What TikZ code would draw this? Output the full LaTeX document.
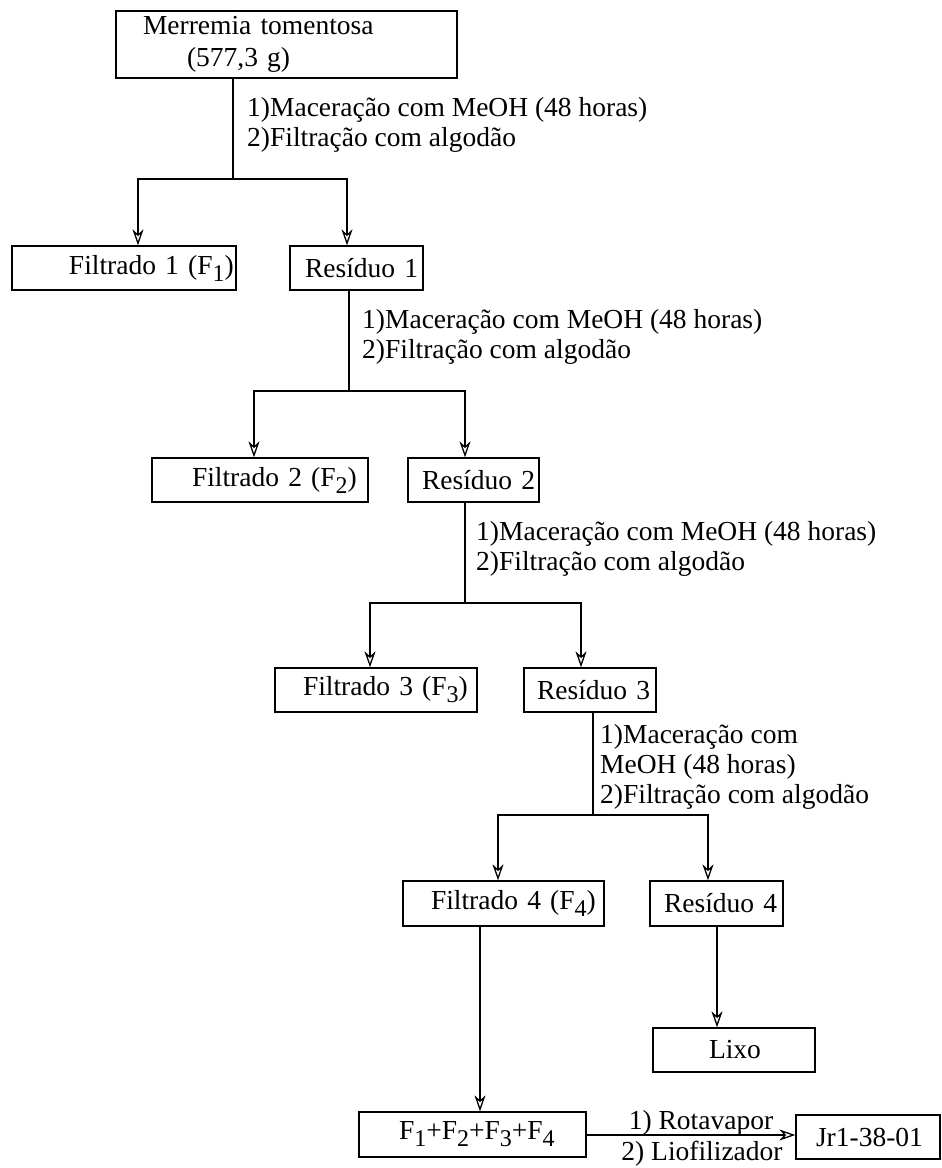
\documentclass[tikz,border=0pt]{standalone}
\usepackage{fontspec}
\setmainfont{Liberation Serif}
\usetikzlibrary{arrows.meta}
\newcommand{\sbs}[1]{\raisebox{-7pt}{\fontsize{24}{24}\selectfont #1}}
\begin{document}
\begin{tikzpicture}[x=1pt,y=-1pt,
  every node/.style={font=\fontsize{27.5}{30}\selectfont, inner sep=0pt},
  box/.style={draw, line width=1.3pt, align=left, minimum height=44pt},
  conn/.style={line width=1.3pt},
  arr/.style={conn, -{Stealth[open, length=16pt, width=11pt, inset=5pt]}},
  lbl/.style={align=left, anchor=north west}
]
\useasboundingbox (0,0) rectangle (942,1168);

% boxes
\node[box, font=\fontsize{27.5}{32}\selectfont, inner xsep=27pt, text width=287pt, minimum height=67pt] (top) at (286.5,44.5)
  {Merremia tomentosa\\\hspace*{44pt}(577,3 g)};
\node[box, text width=224pt] (f1) at (124,268) {\hspace*{57pt}Filtrado 1 (F\sbs{1})};
\node[box, text width=133pt] (r1) at (356.5,268) {\hspace*{15pt}Resíduo 1};
\node[box, text width=216pt] (f2) at (260,480) {\hspace*{40pt}Filtrado 2 (F\sbs{2})};
\node[box, text width=131pt] (r2) at (473.5,480) {\hspace*{14pt}Resíduo 2};
\node[box, text width=202pt] (f3) at (376,690) {\hspace*{28pt}Filtrado 3 (F\sbs{3})};
\node[box, text width=132pt] (r3) at (590,690) {\hspace*{13pt}Resíduo 3};
\node[box, text width=201pt, minimum height=45pt] (f4) at (503.5,903.5) {\hspace*{28pt}Filtrado 4 (F\sbs{4})};
\node[box, text width=133pt, minimum height=45pt] (r4) at (716.5,903.5) {\hspace*{14pt}Resíduo 4};
\node[box, text width=162pt] (lixo) at (734,1050) {\hspace*{56pt}Lixo};
\node[box, text width=227pt, minimum height=45pt] (sum) at (472.5,1134.5) {\hspace*{40pt}F\sbs{1}+F\sbs{2}+F\sbs{3}+F\sbs{4}};
\node[box, text width=144pt] (jr) at (868,1137) {\hspace*{20pt}Jr1-38-01};

% labels
\node[lbl] (t1) at (247,97) {1)Maceração com MeOH (48 horas)\\2)Filtração com algodão};
\node[lbl] (t2) at (362,309) {1)Maceração com MeOH (48 horas)\\2)Filtração com algodão};
\node[lbl] (t3) at (476,521) {1)Maceração com MeOH (48 horas)\\2)Filtração com algodão};
\node[lbl] (t4) at (600,724) {1)Maceração com\\MeOH (48 horas)\\2)Filtração com algodão};
\node[anchor=base] (t5) at (701,1129) {1) Rotavapor};
\node[anchor=base] (t6) at (702,1160) {2) Liofilizador};

% junction coordinates
\coordinate (j1) at (233,179); \coordinate (l1) at (138,179); \coordinate (m1) at (347,179);
\coordinate (j2) at (349,391); \coordinate (l2) at (254,391); \coordinate (m2) at (465,391);
\coordinate (j3) at (465,603); \coordinate (l3) at (370,603); \coordinate (m3) at (581,603);
\coordinate (j4) at (593,815); \coordinate (l4) at (498,815); \coordinate (m4) at (708,815);
\coordinate (d4) at (480,1000); \coordinate (d5) at (717,1000);
\coordinate (a5) at (700,1135);

% connectors
\draw[conn] (top.south -| j1) -- (j1);
\draw[arr] (j1) -| (l1 |- f1.north);
\draw[arr] (j1) -| (m1 |- r1.north);

\draw[conn] (r1.south -| j2) -- (j2);
\draw[arr] (j2) -| (l2 |- f2.north);
\draw[arr] (j2) -| (m2 |- r2.north);

\draw[conn] (r2.south -| j3) -- (j3);
\draw[arr] (j3) -| (l3 |- f3.north);
\draw[arr] (j3) -| (m3 |- r3.north);

\draw[conn] (r3.south -| j4) -- (j4);
\draw[arr] (j4) -| (l4 |- f4.north);
\draw[arr] (j4) -| (m4 |- r4.north);

\draw[arr] (f4.south -| d4) -- (d4 |- sum.north);
\draw[arr] (r4.south -| d5) -- (d5 |- lixo.north);
\draw[arr] (sum.east |- a5) -- (jr.west |- a5);
\end{tikzpicture}
\end{document}
